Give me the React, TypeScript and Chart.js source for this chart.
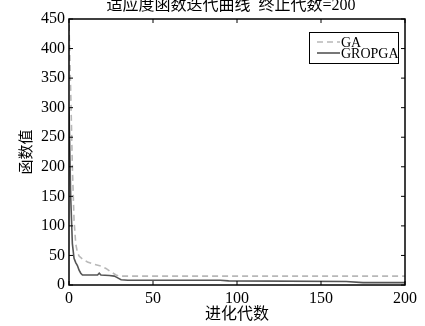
import React, { useEffect, useRef } from "react";
import { Chart, registerables } from "chart.js";

Chart.register(...registerables);

const titleText = "适应度函数迭代曲线  终止代数=200";
const xTitle = "进化代数";
const yTitle = "函数值";
const seriesNames = ["GA", "GROPGA"];

const gaGen = [0, 1, 2, 3, 4, 5, 6, 8, 11, 15, 19, 22, 25, 28, 30, 200];
const gaVal = [440, 330, 200, 110, 70, 55, 49, 44, 39, 35, 32, 28, 22, 17, 15, 15];

const gropGen = [0, 1, 2, 3, 4, 5, 6, 7, 8, 17, 18, 19, 24, 27, 29, 31, 35, 90, 95, 165, 175, 200];
const gropVal = [300, 150, 70, 45, 38, 33, 25, 20, 17, 17, 20, 17, 16, 15, 12, 9, 8, 8, 7, 6, 4, 4];

const FONT = '"Liberation Serif", "Noto Sans CJK SC", serif';

const decorPlugin = {
  id: "decor",
  afterDraw(chart: any) {
    const ctx = chart.ctx;
    const { left, right, top, bottom } = chart.chartArea;
    const xs = chart.scales.x;
    const ys = chart.scales.y;
    ctx.save();
    // box
    ctx.strokeStyle = "#000";
    ctx.lineWidth = 1.5;
    ctx.strokeRect(left, top, right - left, bottom - top);
    // inward ticks
    ctx.lineWidth = 1;
    const tl = 4;
    xs.ticks.forEach((t: any) => {
      const px = xs.getPixelForValue(t.value);
      ctx.beginPath();
      ctx.moveTo(px, bottom);
      ctx.lineTo(px, bottom - tl);
      ctx.moveTo(px, top);
      ctx.lineTo(px, top + tl);
      ctx.stroke();
    });
    ys.ticks.forEach((t: any) => {
      const py = ys.getPixelForValue(t.value);
      ctx.beginPath();
      ctx.moveTo(left, py);
      ctx.lineTo(left + tl, py);
      ctx.moveTo(right, py);
      ctx.lineTo(right - tl, py);
      ctx.stroke();
    });
    // title
    ctx.fillStyle = "#000";
    ctx.font = `16px ${FONT}`;
    ctx.textAlign = "center";
    ctx.textBaseline = "middle";
    ctx.fillText(titleText, (left + right) / 2 - 6, 6);
    // legend
    const lx = 309, ly = 32, lw = 89, lh = 31;
    ctx.fillStyle = "#fff";
    ctx.fillRect(lx, ly, lw, lh);
    ctx.strokeStyle = "#000";
    ctx.lineWidth = 1;
    ctx.strokeRect(lx + 0.5, ly + 0.5, lw, lh);
    chart.data.datasets.forEach((ds: any, i: number) => {
      const y = ly + 10 + i * 11;
      ctx.save();
      ctx.strokeStyle = ds.borderColor;
      ctx.lineWidth = ds.borderWidth;
      ctx.setLineDash(ds.borderDash || []);
      ctx.beginPath();
      ctx.moveTo(lx + 8, y);
      ctx.lineTo(lx + 31, y);
      ctx.stroke();
      ctx.restore();
      ctx.fillStyle = "#000";
      ctx.font = `14px ${FONT}`;
      ctx.textAlign = "left";
      ctx.textBaseline = "middle";
      ctx.fillText(ds.label, lx + 32, y + 1);
    });
    ctx.restore();
  },
};

export default function App() {
  const ref = useRef<HTMLCanvasElement>(null);
  useEffect(() => {
    const chart = new Chart(ref.current!, {
      type: "line",
      data: {
        datasets: [
          {
            label: seriesNames[0],
            data: gaGen.map((g, i) => ({ x: g, y: gaVal[i] })),
            borderColor: "#b8b8b8",
            borderWidth: 1.6,
            borderDash: [6, 4],
            pointRadius: 0,
            tension: 0,
          },
          {
            label: seriesNames[1],
            data: gropGen.map((g, i) => ({ x: g, y: gropVal[i] })),
            borderColor: "#555555",
            borderWidth: 1.6,
            pointRadius: 0,
            tension: 0,
          },
        ],
      },
      options: {
        animation: false,
        responsive: false,
        maintainAspectRatio: false,
        layout: { padding: { top: 19, right: 20, left: 0, bottom: 0 } },
        plugins: { legend: { display: false }, tooltip: { enabled: false }, title: { display: false } },
        scales: {
          x: {
            type: "linear",
            min: 0,
            max: 200,
            ticks: { stepSize: 50, color: "#000", font: { family: FONT, size: 16 }, padding: 4, maxRotation: 0 },
            grid: { display: false, drawTicks: false },
            border: { display: false },
            title: { display: true, text: xTitle, color: "#000", font: { family: FONT, size: 16 }, padding: { top: 0, bottom: 2 } },
            afterFit: (s: any) => { s.height = 41; },
          },
          y: {
            type: "linear",
            min: 0,
            max: 450,
            ticks: { stepSize: 50, color: "#000", font: { family: FONT, size: 16 }, padding: 4 },
            grid: { display: false, drawTicks: false },
            border: { display: false },
            title: { display: true, text: yTitle, color: "#000", font: { family: FONT, size: 15 }, padding: { top: 18, bottom: 0 } },
            afterFit: (s: any) => { s.width = 69; },
          },
        },
      },
      plugins: [decorPlugin],
    });
    return () => chart.destroy();
  }, []);
  return (
    <div style={{ position: "fixed", left: 0, top: 0, width: 425, height: 326, background: "#fff" }}>
      <canvas ref={ref} width={425} height={326} style={{ width: 425, height: 326 }} />
    </div>
  );
}
